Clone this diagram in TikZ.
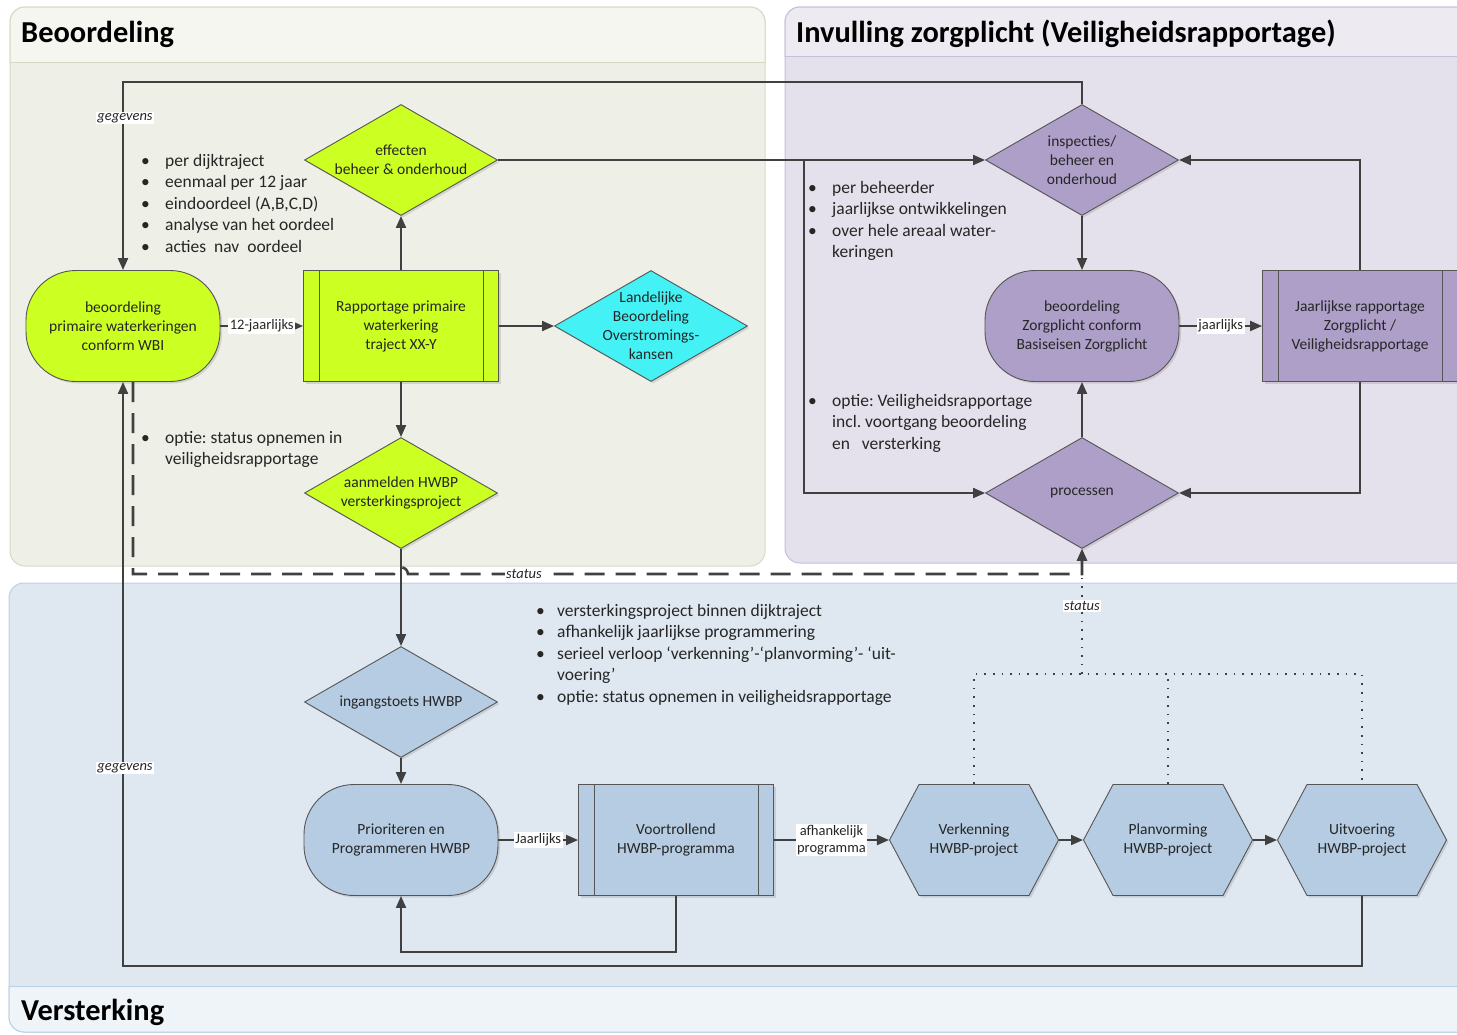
\documentclass[tikz,border=0pt]{standalone}
\usepackage{fontspec}
\setmainfont{Carlito}
\usetikzlibrary{shapes.geometric,shapes.symbols,arrows.meta,shadows,calc}

\definecolor{limef}{HTML}{CCFF22}
\definecolor{cyanf}{HTML}{44F2F6}
\definecolor{purpf}{HTML}{AE9FC9}
\definecolor{bluef}{HTML}{B5CCE2}
\definecolor{laneG}{HTML}{EEF0E7}
\definecolor{laneGh}{HTML}{F5F6F0}
\definecolor{laneGb}{HTML}{D5DAC3}
\definecolor{laneP}{HTML}{E5E1EC}
\definecolor{lanePh}{HTML}{EDEAF2}
\definecolor{lanePb}{HTML}{C7BEDA}
\definecolor{laneB}{HTML}{DFE8F1}
\definecolor{laneBh}{HTML}{EFF4F9}
\definecolor{laneBb}{HTML}{BBD0E6}
\definecolor{connc}{HTML}{404040}
\definecolor{edgec}{HTML}{555555}
\definecolor{txtc}{HTML}{262626}

\newcommand{\nodefont}{\fontsize{15.5}{19}\selectfont\frenchspacing}
\newcommand{\bulfont}{\fontsize{17.5}{21.5}\selectfont\frenchspacing}
\newcommand{\labfont}{\fontsize{14.5}{17}\selectfont\frenchspacing}
\newcommand{\bulA}{\makebox[24pt][l]{\textbullet}}
\newcommand{\bulB}{\makebox[21pt][l]{\textbullet}}

\tikzset{
  box/.style={draw=edgec, line width=0.9pt, inner sep=0pt, align=center,
    font=\nodefont, text=txtc,
    drop shadow={opacity=0.25, shadow xshift=2pt, shadow yshift=-2pt}},
  stadium/.style={box, rectangle, rounded corners=50pt, minimum width=194pt, minimum height=111pt},
  procbox/.style={box, rectangle, minimum width=195pt, minimum height=111pt},
  dia/.style={box, diamond, minimum width=193pt, minimum height=111pt},
  hexa/.style={box, signal, signal to=east and west, signal pointer angle=124,
    minimum width=169pt, minimum height=111pt},
  intext/.style={align=center, font=\nodefont, text=txtc, inner sep=0pt},
  conn/.style={draw=connc, line width=2pt},
  arr/.style={conn, -{Triangle[length=12pt,width=10pt]}},
  lab/.style={fill=white, inner sep=1.5pt, font=\labfont, text=txtc, align=center},
  bullets/.style={anchor=north west, inner sep=0pt, align=left, font=\bulfont, text=txtc},
  dashline/.style={draw=connc, line width=2.6pt, dash pattern=on 20pt off 11pt},
  dotline/.style={draw=connc, line width=1.6pt, dash pattern=on 1.6pt off 7pt},
  title/.style={anchor=base west, inner sep=0pt, font=\fontsize{30.4}{36}\selectfont\bfseries, text=black}
}

\begin{document}
\begin{tikzpicture}[x=1pt,y=-1pt]
\useasboundingbox (0,0) rectangle (1457,1034);
\clip (0,0) rectangle (1457,1034);
\fill[white] (0,0) rectangle (1457,1034);

% ---------- lanes ----------
% Beoordeling
\filldraw[fill=laneG, draw=laneGb, line width=1pt, rounded corners=15pt] (10,7) rectangle (765,566);
\begin{scope}
  \clip (0,0) rectangle (1457,62);
  \filldraw[fill=laneGh, draw=laneGb, line width=1pt, rounded corners=15pt] (10,7) rectangle (765,566);
\end{scope}
\draw[laneGb, line width=1pt] (10,62) -- (765,62);
% Invulling zorgplicht
\filldraw[fill=laneP, draw=lanePb, line width=1pt, rounded corners=15pt] (785,7) rectangle (1480,563);
\begin{scope}
  \clip (0,0) rectangle (1457,56);
  \filldraw[fill=lanePh, draw=lanePb, line width=1pt, rounded corners=15pt] (785,7) rectangle (1480,563);
\end{scope}
\draw[lanePb, line width=1pt] (785,56) -- (1457,56);
% Versterking
\filldraw[fill=laneB, draw=laneBb, line width=1pt, rounded corners=15pt] (9,583) rectangle (1480,1032);
\begin{scope}
  \clip (0,986) rectangle (1457,1034);
  \filldraw[fill=laneBh, draw=laneBb, line width=1pt, rounded corners=15pt] (9,583) rectangle (1480,1032);
\end{scope}
\draw[laneBb, line width=1pt] (9,986) -- (1457,986);

\node[title] (t1) at (21,42) {Beoordeling};
\node[title] (t2) at (796,42) {Invulling zorgplicht (Veiligheidsrapportage)};
\node[title] (t3) at (21,1020) {Versterking};

% ---------- nodes ----------
\node[stadium, fill=limef] (wbi) at (123,326) {beoordeling\\primaire waterkeringen\\conform WBI};
\node[procbox, fill=limef] (rap) at (401,326) {Rapportage primaire\\waterkering\\traject XX-Y};
\node[dia, fill=limef, label={[intext]center:{effecten\\beheer \& onderhoud}}] (eff) at (401,160) {};
\node[dia, fill=cyanf, label={[intext]center:{Landelijke\\Beoordeling\\Overstromings-\\kansen}}] (land) at (651,326) {};
\node[dia, fill=limef, label={[intext]center:{aanmelden HWBP\\versterkingsproject}}] (aanm) at (401,493) {};

\node[dia, fill=purpf, label={[intext]center:{inspecties/\\beheer en\\onderhoud}}] (insp) at (1082,160) {};
\node[stadium, fill=purpf] (zorg) at (1082,326) {beoordeling\\Zorgplicht conform\\Basiseisen Zorgplicht};
\node[procbox, fill=purpf] (jaar) at (1360,326) {Jaarlijkse rapportage\\Zorgplicht /\\Veiligheidsrapportage};
\node[dia, fill=purpf, label={[intext]center:{processen}}] (proc) at (1082,493) {};

\node[dia, fill=bluef, label={[intext]center:{ingangstoets HWBP}}] (ing) at (401,702) {};
\node[stadium, fill=bluef] (prio) at (401,840) {Prioriteren en\\Programmeren HWBP};
\node[procbox, fill=bluef] (voor) at (676,840) {Voortrollend\\HWBP-programma};
\node[hexa, fill=bluef] (verk) at (974,840) {Verkenning\\HWBP-project};
\node[hexa, fill=bluef] (plan) at (1168,840) {Planvorming\\HWBP-project};
\node[hexa, fill=bluef] (uit) at (1362,840) {Uitvoering\\HWBP-project};

% inner bars of predefined-process boxes
\foreach \n in {rap,voor,jaar}{
  \draw[edgec, line width=0.9pt] ([xshift=16pt]\n.north west) -- ([xshift=16pt]\n.south west);
  \draw[edgec, line width=0.9pt] ([xshift=-16pt]\n.north east) -- ([xshift=-16pt]\n.south east);
}

% ---------- bullet texts ----------
\node[bullets] (bl1) at (141,154) {\bulA per dijktraject\\\bulA eenmaal per 12 jaar\\\bulA eindoordeel (A,B,C,D)\\\bulA analyse van het oordeel\\\bulA acties\ \ nav\ \ oordeel};
\node[bullets] (bl2) at (141,431) {\bulA optie: status opnemen in\\\hspace*{24pt}veiligheidsrapportage};
\node[bullets] (bl3) at (808,181) {\bulA per beheerder\\\bulA jaarlijkse ontwikkelingen\\\bulA over hele areaal water-\\\hspace*{24pt}keringen};
\node[bullets] (bl4) at (808,394) {\bulA optie: Veiligheidsrapportage\\\hspace*{24pt}incl. voortgang beoordeling\\\hspace*{24pt}en\ \ \ versterking};
\node[bullets] (bl5) at (536,604) {\bulB versterkingsproject binnen dijktraject\\\bulB afhankelijk jaarlijkse programmering\\\bulB serieel verloop ‘verkenning’-‘planvorming’- ‘uit-\\\hspace*{21pt}voering’\\\bulB optie: status opnemen in veiligheidsrapportage};

% ---------- connectors ----------
\coordinate (tl) at (123,82);
\draw[arr] (insp.north) |- (tl) -- (wbi.north);
\node[lab, font=\labfont\itshape] (g1) at (125,118) {gegevens};

\draw[arr] (eff.east) -- (insp.west);
\coordinate (br) at (804,160);
\draw[arr] (br) |- (proc.west);

\draw[arr] (wbi.east) -- node[lab] (l12) {12-jaarlijks} (rap.west);
\draw[arr] (rap.north) -- (eff.south);
\draw[arr] (rap.east) -- (land.west);
\draw[arr] (rap.south) -- (aanm.north);
\draw[arr] (aanm.south) -- (ing.north);
\draw[arr] (ing.south) -- (prio.north);
\draw[arr] (prio.east) -- node[lab] (lj) {Jaarlijks} (voor.west);
\draw[arr] (voor.east) -- node[lab] (lafh) {afhankelijk\\programma} (verk.west);
\draw[arr] (verk.east) -- (plan.west);
\draw[arr] (plan.east) -- (uit.west);
\draw[arr] (voor.south) -- (676,952) -| (prio.south);
\draw[arr] (uit.south) -- (1362,966) -| (wbi.south);
\node[lab, font=\labfont\itshape] (g2) at (125,768) {gegevens};

\draw[arr] (insp.south) -- (zorg.north);
\draw[arr] (proc.north) -- (zorg.south);
\draw[arr] (zorg.east) -- node[lab] (ljz) {jaarlijks} (jaar.west);
\draw[arr] (jaar.north) |- (insp.east);
\draw[arr] (jaar.south) |- (proc.east);

% dashed status line (with a line jump over the vertical connector)
\coordinate (ds) at (133,382);
\draw[dashline, -{Triangle[length=12pt,width=10pt]}] (ds) -- (133,574) -- (394,574) .. controls (395,565) and (407,565) .. (408,574) -- (1082,574) -- (proc.south);
\node[lab, font=\labfont\itshape] (st1) at (524,574) {status};

% dotted status lines
\coordinate (jn) at (1082,674);
\draw[dotline] (verk.north) -- (974,674) -- (1362,674) -- (uit.north);
\draw[dotline] (plan.north) -- (1168,674);
\draw[dotline, -{Triangle[length=12pt,width=10pt]}] (jn) -- (proc.south);
\node[lab, font=\labfont\itshape] (st2) at (1082,606) {status};

\end{tikzpicture}
\end{document}
